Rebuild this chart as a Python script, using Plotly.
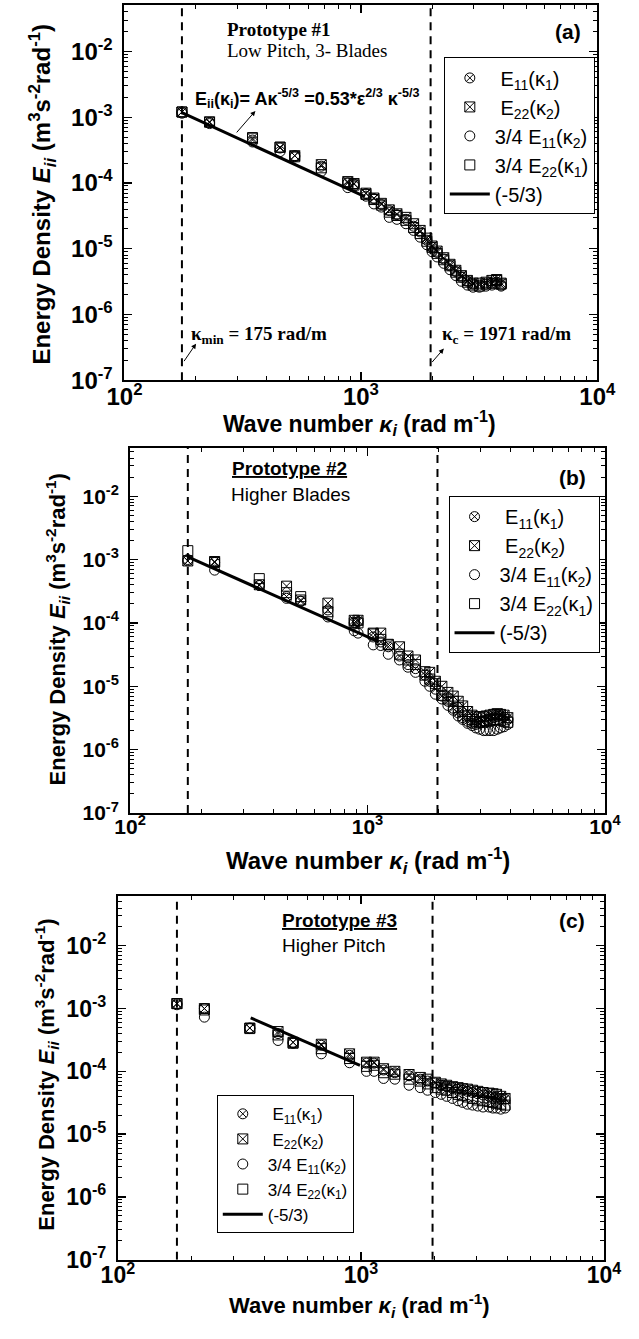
import plotly.graph_objects as go

W, H = 639, 1339

# ---------------- data ----------------
kappa_min = 175      # rad/m
kappa_c = 1971       # rad/m

# Panel (a) Prototype #1
k_a = [175, 229, 348, 455, 525, 680, 880, 935, 1050, 1135, 1220, 1318, 1420, 1550, 1670,
       1780, 1900, 2000, 2100, 2240, 2380, 2520, 2660, 2820, 2980, 3170, 3380, 3580, 3750, 3920]
E11_k1_a = [1.2e-3, 8.3e-4, 4.5e-4, 3.4e-4, 2.6e-4, 1.8e-4, 1.0e-4, 9.6e-5, 6.9e-5, 5.8e-5,
            4.7e-5, 3.8e-5, 3.3e-5, 2.8e-5, 2.2e-5, 1.8e-5, 1.35e-5, 1.05e-5, 8.8e-6, 7.0e-6,
            5.5e-6, 4.5e-6, 3.7e-6, 3.2e-6, 2.9e-6, 2.8e-6, 2.9e-6, 3.0e-6, 3.1e-6, 2.8e-6]
E22_k2_a = [1.2e-3, 8.5e-4, 4.8e-4, 3.5e-4, 2.6e-4, 1.9e-4, 1.05e-4, 9.8e-5, 7.0e-5, 5.9e-5,
            4.9e-5, 3.9e-5, 3.4e-5, 3.0e-5, 2.4e-5, 1.9e-5, 1.45e-5, 1.1e-5, 9.2e-6, 7.3e-6,
            5.8e-6, 4.7e-6, 3.9e-6, 3.3e-6, 3.0e-6, 3.0e-6, 3.1e-6, 3.3e-6, 3.4e-6, 3.0e-6]
E11_k2_34_a = [1.15e-3, 8.0e-4, 4.2e-4, 3.0e-4, 2.5e-4, 1.5e-4, 8.5e-5, 9.0e-5, 6.3e-5, 4.8e-5,
               4.3e-5, 3.0e-5, 2.8e-5, 2.4e-5, 1.9e-5, 1.5e-5, 1.15e-5, 9.0e-6, 7.5e-6, 6.0e-6,
               4.8e-6, 3.9e-6, 3.2e-6, 2.8e-6, 2.6e-6, 2.6e-6, 2.7e-6, 2.8e-6, 2.9e-6, 2.7e-6]
E22_k1_34_a = [1.2e-3, 8.4e-4, 4.9e-4, 3.5e-4, 2.5e-4, 1.7e-4, 1.0e-4, 9.3e-5, 6.7e-5, 5.6e-5,
               4.6e-5, 3.6e-5, 3.2e-5, 2.7e-5, 2.1e-5, 1.7e-5, 1.3e-5, 1.05e-5, 8.5e-6, 6.8e-6,
               5.5e-6, 4.4e-6, 3.7e-6, 3.1e-6, 2.8e-6, 2.7e-6, 2.9e-6, 3.0e-6, 3.3e-6, 2.9e-6]
fit_k_a = [175, 1040]
fit_E_a = [1.17e-3, 6.2e-5]

# Panel (b) Prototype #2
k_b = [175, 227, 350, 456, 523, 681, 879, 912, 1057, 1137, 1223, 1364, 1480, 1593, 1745, 1828,
       1931, 2057, 2180, 2296, 2410, 2517, 2640, 2756, 2860, 2965, 3080, 3162, 3280, 3403, 3520,
       3630, 3760, 3900]
E11_k1_b = [9.5e-4, 9.0e-4, 3.9e-4, 2.6e-4, 2.2e-4, 1.6e-4, 1.0e-4, 1.05e-4, 6.0e-5, 5.0e-5,
            4.2e-5, 3.0e-5, 2.2e-5, 1.9e-5, 1.5e-5, 1.2e-5, 9.0e-6, 7.0e-6, 5.8e-6, 4.5e-6,
            3.8e-6, 3.2e-6, 2.8e-6, 2.6e-6, 2.5e-6, 2.6e-6, 2.8e-6, 3.0e-6, 3.1e-6, 3.2e-6,
            3.3e-6, 3.4e-6, 3.3e-6, 3.0e-6]
E22_k2_b = [9.5e-4, 9.3e-4, 4.0e-4, 3.8e-4, 2.3e-4, 2.05e-4, 1.1e-4, 1.1e-4, 6.9e-5, 6.9e-5,
            4.6e-5, 4.2e-5, 3.0e-5, 2.6e-5, 1.7e-5, 1.66e-5, 1.2e-5, 1.0e-5, 8.0e-6, 7.0e-6,
            5.8e-6, 4.9e-6, 4.0e-6, 3.5e-6, 3.3e-6, 3.3e-6, 3.3e-6, 3.4e-6, 3.5e-6, 3.6e-6,
            3.7e-6, 3.6e-6, 3.5e-6, 3.2e-6]
E11_k2_34_b = [1.0e-3, 6.8e-4, 3.9e-4, 2.44e-4, 2.2e-4, 1.24e-4, 7.5e-5, 6.9e-5, 4.5e-5, 4.4e-5,
               3.2e-5, 2.6e-5, 2.0e-5, 1.66e-5, 1.2e-5, 1.0e-5, 7.5e-6, 6.3e-6, 5.0e-6, 4.2e-6,
               3.4e-6, 3.0e-6, 2.6e-6, 2.4e-6, 2.2e-6, 2.1e-6, 2.0e-6, 2.0e-6, 2.0e-6, 2.0e-6,
               2.1e-6, 2.2e-6, 2.3e-6, 2.5e-6]
E22_k1_34_b = [1.38e-3, 9.0e-4, 5.0e-4, 3.0e-4, 2.6e-4, 1.5e-4, 1.0e-4, 1.0e-4, 6.7e-5, 5.5e-5,
               4.5e-5, 3.2e-5, 2.6e-5, 2.2e-5, 1.5e-5, 1.3e-5, 1.1e-5, 7.2e-6, 6.3e-6, 5.8e-6,
               4.6e-6, 4.0e-6, 3.4e-6, 3.0e-6, 2.8e-6, 2.7e-6, 2.7e-6, 2.8e-6, 2.9e-6, 3.0e-6,
               3.0e-6, 2.9e-6, 2.8e-6, 2.7e-6]
fit_k_b = [175, 1117]
fit_E_b = [1.1e-3, 5.0e-5]

# Panel (c) Prototype #3
k_c = [175, 227, 349, 456, 526, 687, 898, 1054, 1133, 1239, 1379, 1578, 1755, 1880, 2023, 2140,
       2253, 2380, 2508, 2620, 2742, 2880, 3025, 3180, 3368, 3490, 3614, 3760, 3918]
E11_k1_c = [1.2e-3, 1.0e-3, 4.9e-4, 4.0e-4, 2.9e-4, 2.6e-4, 1.8e-4, 1.35e-4, 1.35e-4, 1.05e-4,
            9.5e-5, 8.5e-5, 7.5e-5, 7.0e-5, 6.5e-5, 6.0e-5, 5.8e-5, 5.5e-5, 5.2e-5, 5.0e-5,
            4.8e-5, 4.6e-5, 4.4e-5, 4.2e-5, 4.0e-5, 3.9e-5, 3.8e-5, 3.7e-5, 3.6e-5]
E22_k2_c = [1.2e-3, 1.0e-3, 4.9e-4, 4.3e-4, 2.9e-4, 2.7e-4, 1.9e-4, 1.4e-4, 1.4e-4, 1.1e-4,
            1.0e-4, 8.9e-5, 8.0e-5, 7.5e-5, 6.7e-5, 6.3e-5, 6.0e-5, 5.7e-5, 5.5e-5, 5.3e-5,
            5.2e-5, 5.0e-5, 4.8e-5, 4.6e-5, 4.5e-5, 4.4e-5, 4.3e-5, 4.0e-5, 3.7e-5]
E11_k2_34_c = [1.15e-3, 7.3e-4, 4.8e-4, 3.1e-4, 2.8e-4, 1.9e-4, 1.37e-4, 1.0e-4, 1.0e-4, 7.7e-5,
               7.5e-5, 6.0e-5, 5.5e-5, 5.0e-5, 4.6e-5, 4.3e-5, 4.0e-5, 3.7e-5, 3.4e-5, 3.2e-5,
               3.0e-5, 2.9e-5, 2.8e-5, 2.7e-5, 2.7e-5, 2.6e-5, 2.6e-5, 2.5e-5, 2.6e-5]
E22_k1_34_c = [1.2e-3, 9.5e-4, 4.8e-4, 3.8e-4, 2.8e-4, 2.3e-4, 1.6e-4, 1.2e-4, 1.25e-4, 9.5e-5,
               9.0e-5, 7.5e-5, 7.0e-5, 6.3e-5, 5.5e-5, 5.2e-5, 5.0e-5, 4.6e-5, 4.3e-5, 4.1e-5,
               3.9e-5, 3.7e-5, 3.5e-5, 3.4e-5, 3.3e-5, 3.2e-5, 3.1e-5, 3.0e-5, 2.9e-5]
fit_k_c = [352, 991]
fit_E_c = [7.1e-4, 1.25e-4]

# tick labels
x_major = [1e2, 1e3, 1e4]
x_major_text = ["10<sup>2</sup>", "10<sup>3</sup>", "10<sup>4</sup>"]
y_major = [1e-7, 1e-6, 1e-5, 1e-4, 1e-3, 1e-2]
y_major_text = ["10<sup>-7</sup>", "10<sup>-6</sup>", "10<sup>-5</sup>",
                "10<sup>-4</sup>", "10<sup>-3</sup>", "10<sup>-2</sup>"]

series_names = ["\u00a0E<sub>11</sub>(κ<sub>1</sub>)", "\u00a0E<sub>22</sub>(κ<sub>2</sub>)",
                "3/4 E<sub>11</sub>(κ<sub>2</sub>)", "3/4 E<sub>22</sub>(κ<sub>1</sub>)"]
fit_name = "(-5/3)"

# ---------------- styling / layout ----------------
SANS = "Liberation Sans, Arial, sans-serif"
SERIF = "Liberation Serif, Times New Roman, serif"
symbols = ["circle-x-open", "square-x-open", "circle-open", "square-open"]

x_minor = [m * 10 ** e for e in (2, 3) for m in range(2, 10)]
y_minor = [m * 10 ** e for e in range(-8, -1) for m in range(2, 10)]


def px(x):
    return x / W


def py(y):
    return 1 - y / H


panels = [
    dict(tag="", k=k_a, E=[E11_k1_a, E22_k2_a, E11_k2_34_a, E22_k1_34_a], fk=fit_k_a, fE=fit_E_a,
         xdom=[113, 615], ydom=[5, 384], ytop=-1.293, leg="legend", tick=24),
    dict(tag="2", k=k_b, E=[E11_k1_b, E22_k2_b, E11_k2_34_b, E22_k1_34_b], fk=fit_k_b, fE=fit_E_b,
         xdom=[119, 623], ydom=[452, 821], ytop=-1.234, leg="legend2", tick=21),
    dict(tag="3", k=k_c, E=[E11_k1_c, E22_k2_c, E11_k2_34_c, E22_k1_34_c], fk=fit_k_c, fE=fit_E_c,
         xdom=[106, 622], ydom=[905, 1272], ytop=-1.21, leg="legend3", tick=23),
]

fig = go.Figure()
layout = {}
for pi, p in enumerate(panels):
    xa, ya = "x" + p["tag"], "y" + p["tag"]
    # vertical dashed lines at kappa_min and kappa_c
    for kv in (kappa_min, kappa_c):
        fig.add_trace(go.Scatter(x=[kv, kv], y=[1e-7, 10 ** p["ytop"]], mode="lines",
                                 line=dict(color="black", width=2, dash="8px,6px"),
                                 showlegend=False, hoverinfo="skip", xaxis=xa, yaxis=ya))
    for si in range(4):
        fig.add_trace(go.Scatter(
            x=p["k"], y=p["E"][si], mode="markers", name=series_names[si],
            marker=dict(symbol=symbols[si], size=10, color="black", line=dict(width=1, color="black")),
            xaxis=xa, yaxis=ya, legend=p["leg"], legendgroup=f"{pi}-{si}"))
    fig.add_trace(go.Scatter(x=p["fk"], y=p["fE"], mode="lines", name=fit_name,
                             line=dict(color="black", width=3),
                             xaxis=xa, yaxis=ya, legend=p["leg"], legendgroup=f"{pi}-fit"))

    common = dict(type="log", showgrid=False, zeroline=False, showline=True, linecolor="black",
                  linewidth=2, mirror="allticks", ticks="inside", ticklen=8, tickwidth=1.3,
                  tickcolor="black", tickmode="array",
                  tickfont=dict(family=SANS, size=p["tick"], color="black", weight="bold"),
                  minor=dict(ticks="inside", ticklen=4, tickwidth=1, tickcolor="black",
                             showgrid=False, tickmode="array"))
    xaxis = dict(common, domain=[px(p["xdom"][0]), px(p["xdom"][1])], range=[2, 4],
                 tickvals=x_major, ticktext=x_major_text, anchor=ya, ticklabelstandoff=-6)
    xaxis["minor"] = dict(common["minor"], tickvals=x_minor)
    yaxis = dict(common, domain=[py(p["ydom"][1]), py(p["ydom"][0])], range=[-7, p["ytop"]],
                 tickvals=y_major, ticktext=y_major_text, anchor=xa, ticklabelstandoff=5)
    yaxis["minor"] = dict(common["minor"], tickvals=y_minor)
    layout["xaxis" + p["tag"]] = xaxis
    layout["yaxis" + p["tag"]] = yaxis

legend_common = dict(bgcolor="white", bordercolor="black", borderwidth=1, xanchor="left",
                     yanchor="top", xref="paper", yref="paper", itemclick=False, itemwidth=40)
layout["legend"] = dict(legend_common, x=px(452), y=py(58), tracegroupgap=0,
                        font=dict(family=SANS, size=20, color="black"))
layout["legend2"] = dict(legend_common, x=px(457), y=py(501), tracegroupgap=0,
                         font=dict(family=SANS, size=20, color="black"))
layout["legend3"] = dict(legend_common, x=px(211), y=py(1106), tracegroupgap=0,
                         font=dict(family=SANS, size=17, color="black"))

ann = []


def text(x, y, t, size, family=SANS, angle=0):
    ann.append(dict(x=px(x), y=py(y), xref="paper", yref="paper", text=t, showarrow=False,
                    xanchor="center", yanchor="middle", textangle=angle,
                    font=dict(family=family, size=size, color="black")))


def arrow(x_head, y_head, x_tail, y_tail):
    ann.append(dict(x=px(x_head), y=py(y_head), xref="paper", yref="paper", text="",
                    showarrow=True, ax=x_tail - x_head, ay=y_tail - y_head, arrowhead=2,
                    arrowsize=1, arrowwidth=1, arrowcolor="black"))


ytitle = "<b>Energy Density <i>E<sub>ii</sub></i> (m<sup>3</sup>s<sup>-2</sup>rad<sup>-1</sup>)</b>"
xtitle = "<b>Wave number <i>κ<sub>i</sub></i> (rad m<sup>-1</sup>)</b>"

# panel (a)
text(26, 196, ytitle, 24, angle=-90)
text(362, 427, xtitle, 23)
text(277, 30, "<b>Prototype #1</b>", 19, family=SERIF)
text(307, 51, "Low Pitch, 3- Blades", 19, family=SERIF)
text(584, 32, "<b>(a)</b>", 21)
text(307, 99, "<b>E<sub>ii</sub>(κ<sub>i</sub>)= Aκ<sup>-5/3</sup> =0.53*ε<sup>2/3</sup> κ<sup>-5/3</sup></b>", 18)
arrow(252, 112, 232, 135)
text(256, 338, "<b>κ<sub>min</sub> = 175 rad/m</b>", 19, family=SERIF)
arrow(189, 347, 176, 366)
text(518, 338, "<b>κ<sub>c</sub> = 1971 rad/m</b>", 19, family=SERIF)
arrow(452, 352, 439, 367)

# panel (b)
text(42, 636, ytitle, 22, angle=-90)
text(372, 869, xtitle, 24)
text(288, 473, "<b><u>Prototype #2</u></b>", 19)
text(289, 499, "Higher Blades", 19)
text(589, 482, "<b>(b)</b>", 21)

# panel (c)
text(30, 1085, ytitle, 22, angle=-90)
text(363, 1318, xtitle, 22)
text(341, 930, "<b><u>Prototype #3</u></b>", 19)
text(335, 955, "Higher Pitch", 19)
text(588, 930, "<b>(c)</b>", 21)

fig.update_layout(width=W, height=H, margin=dict(l=0, r=0, t=0, b=0),
                  plot_bgcolor="white", paper_bgcolor="white", annotations=ann,
                  font=dict(family=SANS, color="black"), **layout)

# the page's default body margin would offset the 639x1339 figure inside the window
fig.write_html("out.html", config={"displayModeBar": False, "staticPlot": True},
               post_script="document.body.style.margin='0px';document.body.style.overflow='hidden';")
